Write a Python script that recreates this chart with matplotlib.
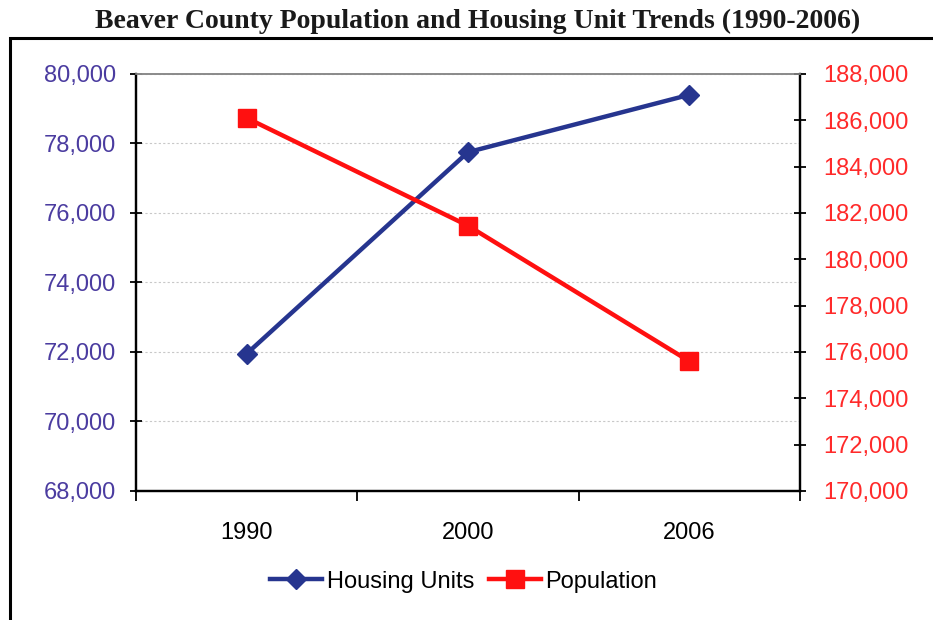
import matplotlib
matplotlib.use("Agg")
import matplotlib.pyplot as plt
from matplotlib.patches import Rectangle
from matplotlib.ticker import FuncFormatter, FixedLocator

plt.rcParams["font.family"] = ["Liberation Sans", "DejaVu Sans"]

# 数据
years = ["1990", "2000", "2006"]
housing_units = [71950, 77750, 79400]
population = [186100, 181450, 175600]

HOUSING_COLOR = "#26358f"
POP_COLOR = "#ff1010"
LEFT_LABEL_COLOR = "#4b3ca0"
RIGHT_LABEL_COLOR = "#ff2a2a"

fig = plt.figure(figsize=(9.33, 6.2), dpi=100)
ax = fig.add_axes([0.1458, 0.2081, 0.7116, 0.6726])
ax2 = ax.twinx()

x = list(range(len(years)))

# 外框
fig.patches.append(Rectangle((0.0107, -0.05), 1.2, 0.9387 + 0.05, transform=fig.transFigure,
                             fill=False, edgecolor="black", linewidth=2.2))

fig.text(0.5115, 0.966, "Beaver County Population and Housing Unit Trends (1990-2006)",
         ha="center", va="center", fontsize=20, fontweight="bold",
         family="Liberation Serif", color="#1a1a1a")

# 网格线
for v in range(68000, 80001, 2000):
    ax.axhline(v, color="#c8c8c8", linewidth=0.8, linestyle=(0, (2, 2)), zorder=0)

hu_line, = ax.plot(x, housing_units, color=HOUSING_COLOR, linewidth=3.2, marker="D",
                   markersize=10.5, label="Housing Units", zorder=3)
pop_line, = ax2.plot(x, population, color=POP_COLOR, linewidth=3.2, marker="s",
                     markersize=13, label="Population", zorder=3)

ax.set_xlim(-0.5, 2.5)
ax.set_ylim(68000, 80000)
ax2.set_ylim(170000, 188000)
ax.set_yticks(range(68000, 80001, 2000))
ax2.set_yticks(range(170000, 188001, 2000))

fmt = FuncFormatter(lambda v, p: f"{int(v):,}")
ax.yaxis.set_major_formatter(fmt)
ax2.yaxis.set_major_formatter(fmt)

ax.set_xticks(x)
ax.set_xticklabels(years)
ax.xaxis.set_minor_locator(FixedLocator([-0.5, 0.5, 1.5, 2.5]))
ax.tick_params(axis="x", which="major", length=0, pad=22, labelsize=17, colors="black")
ax.tick_params(axis="x", which="minor", length=7, width=1.3, direction="out", color="black")
ax.tick_params(axis="y", direction="inout", length=9, width=1.3, labelsize=17,
               labelcolor=LEFT_LABEL_COLOR, pad=10)
ax2.tick_params(axis="y", direction="inout", length=9, width=1.3, labelsize=17,
                labelcolor=RIGHT_LABEL_COLOR, pad=12)

for a in (ax, ax2):
    a.spines["top"].set_color("#8a8a8a")
    a.spines["top"].set_linewidth(1.2)
    for s in ("left", "right", "bottom"):
        a.spines[s].set_color("black")
        a.spines[s].set_linewidth(1.6)

fig.legend(handles=[hu_line, pop_line], loc="center", bbox_to_anchor=(0.497, 0.062),
           ncol=2, frameon=False, fontsize=17, handlelength=2.2, handletextpad=0.2,
           columnspacing=0.6)

fig.savefig("out.png", dpi=100)
